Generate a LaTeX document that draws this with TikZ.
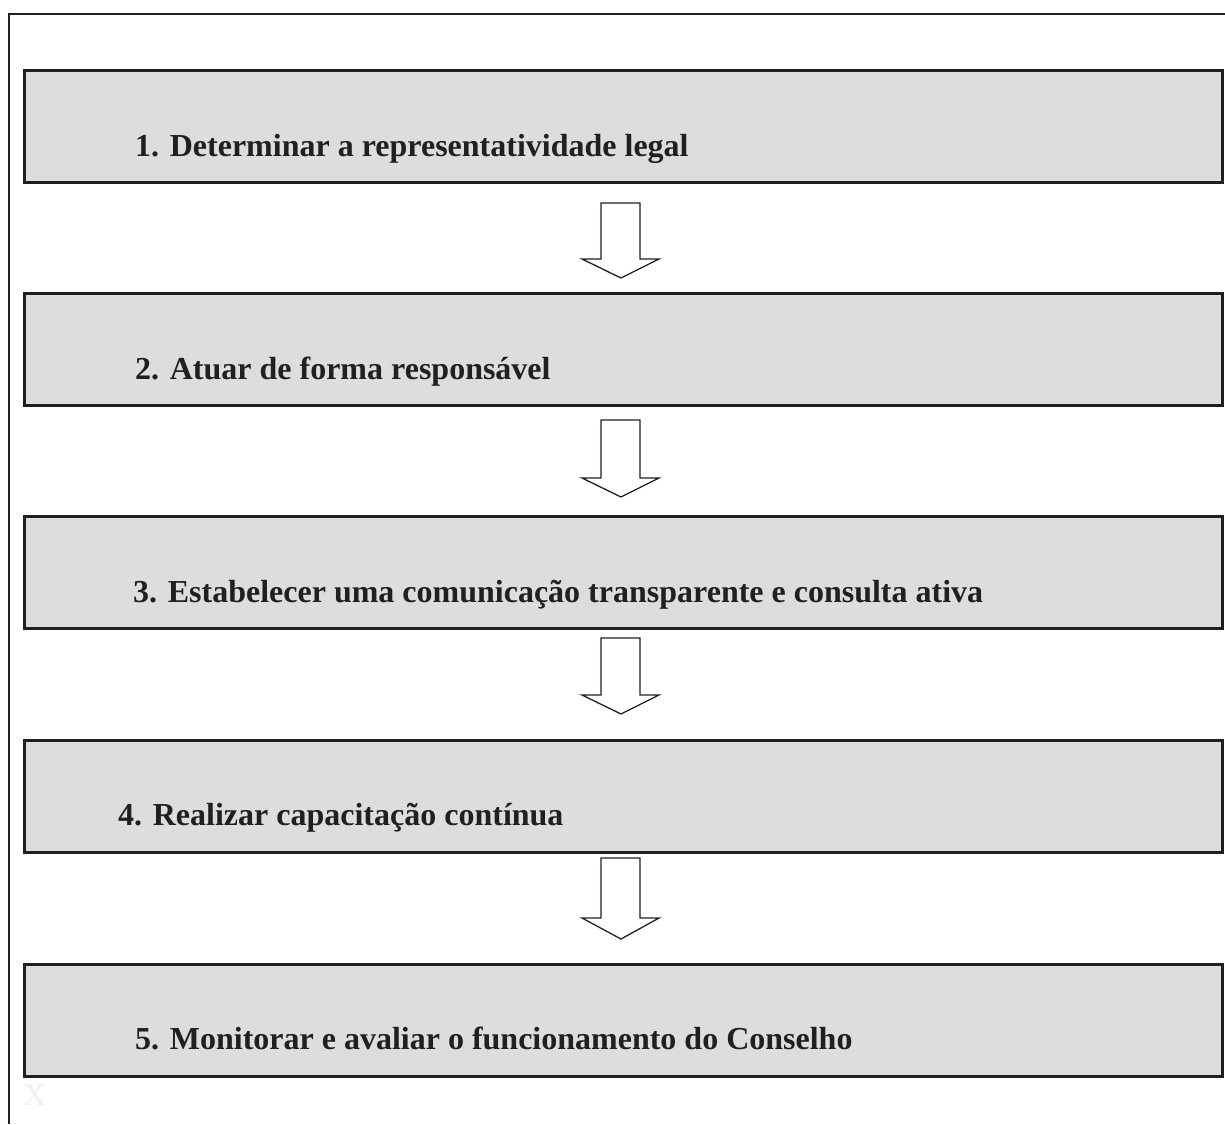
\documentclass[tikz,border=0pt]{standalone}
\usepackage{fontspec}
\setmainfont{Liberation Serif}
\definecolor{ink}{HTML}{231F20}
\definecolor{boxfill}{HTML}{DCDDDF}
\definecolor{ghost}{HTML}{EFEFEF}
\newcommand\blkarrow[3]{%
  \draw[arrowline] (601,#1) -- (640,#1) -- (640,#2) -- (659,#2) -- (621,#3) -- (582,#2) -- (601,#2) -- cycle;}
\begin{document}
\begin{tikzpicture}[x=1pt,y=-1pt,
  stepbox/.style={draw=ink,line width=3pt,fill=boxfill,minimum width=1198pt,minimum height=112pt,inner sep=0pt,outer sep=0pt},
  steptext/.style={anchor=base west,inner sep=0pt,font=\fontsize{32}{34}\selectfont\bfseries,text=ink},
  arrowline/.style={draw=ink,line width=1.3pt,fill=white,line join=miter},
  frame/.style={draw=ink,line width=2pt}]
\useasboundingbox (0,0) rectangle (1225,1124);
\draw[frame] (9,1124) -- (9,14) -- (1225,14);
\node[stepbox] (b1) at (623,126) {};
\node[stepbox] (b2) at (623,349) {};
\node[stepbox] (b3) at (623,572) {};
\node[stepbox] (b4) at (623,796) {};
\node[stepbox] (b5) at (623,1020) {};
\node[steptext] (t1) at (135,156) {1. Determinar a representatividade legal};
\node[steptext] (t2) at (135,379) {2. Atuar de forma responsável};
\node[steptext] (t3) at (133,602) {3. Estabelecer uma comunicação transparente e consulta ativa};
\node[steptext] (t4) at (118,825) {4. Realizar capacitação contínua};
\node[steptext] (t5) at (135,1049) {5. Monitorar e avaliar o funcionamento do Conselho};
\blkarrow{203}{259}{278}
\blkarrow{420}{478}{497}
\blkarrow{638}{695}{714}
\blkarrow{858}{918}{939}
\node[anchor=base west,inner sep=0pt,font=\fontsize{32}{34}\selectfont,text=ghost] (x) at (23,1105) {X};
\end{tikzpicture}
\end{document}
